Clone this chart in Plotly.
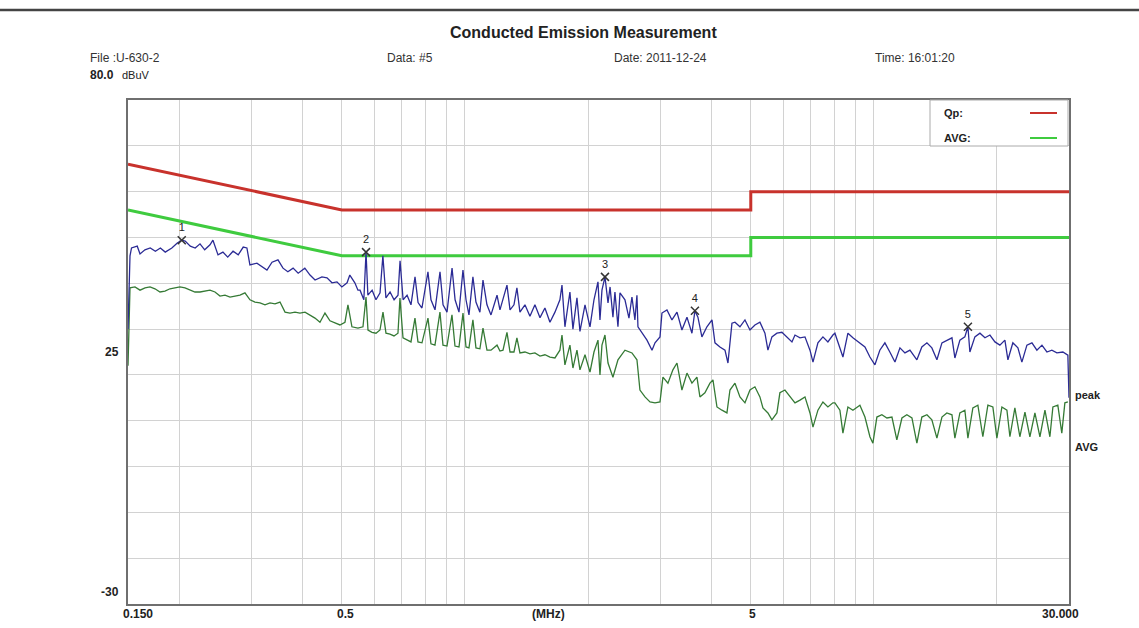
import math
import plotly.graph_objects as go

# ---- measurement data ----
peak_freq = [
    0.150, 0.1517, 0.153, 0.158, 0.1605, 0.165, 0.170, 0.175, 0.180, 0.185,
    0.192, 0.198, 0.203, 0.207, 0.213, 0.219, 0.225, 0.231, 0.238, 0.242,
    0.249, 0.256, 0.263, 0.271, 0.279, 0.287, 0.293, 0.298, 0.310, 0.319,
    0.328, 0.3375, 0.349, 0.359, 0.369, 0.380, 0.391, 0.406, 0.418, 0.430,
    0.447, 0.460, 0.473, 0.4865, 0.500, 0.515, 0.523, 0.538, 0.5475,
    0.554, 0.566, 0.573, 0.579, 0.593, 0.606, 0.620, 0.630, 0.641, 0.656,
    0.671, 0.686, 0.694, 0.706, 0.722, 0.738, 0.755, 0.768, 0.785, 0.812,
    0.826, 0.845, 0.869, 0.884, 0.904, 0.930, 0.946, 0.967, 0.989, 1.006,
    1.023, 1.046, 1.064, 1.088, 1.107, 1.132, 1.158, 1.198, 1.218, 1.239,
    1.267, 1.289, 1.318, 1.340, 1.363, 1.402, 1.442, 1.483, 1.526, 1.569,
    1.614, 1.660, 1.707, 1.727, 1.756, 1.806, 1.837, 1.879, 1.911, 1.966,
    2.022, 2.068, 2.115,
    2.139, 2.163, 2.200, 2.238, 2.264, 2.301, 2.327, 2.367, 2.394, 2.462,
    2.518, 2.561, 2.604, 2.634, 2.649, 2.709, 2.787, 2.867, 2.916, 2.999,
    3.032, 3.119, 3.208, 3.300, 3.393, 3.491, 3.590, 3.651, 3.713, 3.797,
    3.906, 4.019, 4.087, 4.203, 4.324, 4.397, 4.497, 4.574, 4.704, 4.839,
    4.977, 5.118, 5.264, 5.415, 5.507, 5.632, 5.793, 5.958, 6.129, 6.305,
    6.413, 6.596, 6.784, 6.978, 7.097, 7.297, 7.506, 7.719, 7.940,
    8.030, 8.400, 8.640, 8.886, 9.243, 9.509, 9.779, 10.06, 10.34, 10.64,
    10.94, 11.26, 11.58, 11.91, 12.25, 12.74, 13.10, 13.48, 13.86, 14.26,
    14.67, 15.08, 15.52, 15.78, 16.23, 16.69, 16.98, 17.17, 17.66, 18.17,
    18.69, 19.22, 19.77, 20.33, 20.91, 21.27, 21.87, 22.50, 23.01, 23.67,
    24.35, 25.04, 25.76, 26.49, 27.24, 28.02, 28.98, 29.81, 30.00,
]
peak_dbuv = [
    30.0, 46.0, 47.7, 48.1, 46.4, 47.3, 47.7, 47.0, 47.7, 46.8,
    47.7, 48.8, 49.4, 49.2, 48.1, 47.7, 48.6, 47.3, 48.4, 49.4,
    46.2, 46.8, 45.7, 47.0, 46.2, 47.9, 47.7, 44.0, 44.4, 43.6,
    42.9, 44.6, 45.1, 43.3, 42.5, 43.3, 42.2, 43.3, 41.8, 40.7,
    41.4, 41.2, 40.1, 40.3, 39.2, 40.1, 41.8, 40.1, 38.5,
    38.5, 36.4, 46.8, 37.4, 38.5, 36.4, 37.9, 46.0, 36.8, 38.1,
    36.4, 37.4, 44.9, 36.4, 37.4, 35.3, 41.4, 35.8, 34.6, 42.5,
    36.4, 34.2, 42.5, 35.3, 33.7, 43.3, 36.4, 33.7, 42.9, 36.4,
    33.1, 41.4, 35.9, 33.7, 40.7, 35.3, 33.1, 37.4, 34.2, 36.4,
    39.6, 34.2, 35.3, 39.0, 33.7, 35.3, 32.8, 35.3, 32.5, 34.6,
    31.5, 33.7, 36.4, 39.6, 30.5, 38.1, 30.0, 36.8, 29.5, 35.3,
    30.5, 36.4, 40.3,
    32.0, 38.5, 41.4, 35.7, 39.2, 32.6, 38.1, 30.5, 37.9, 36.4,
    32.4, 37.0, 32.0, 37.4, 30.5, 29.1, 27.6, 25.4, 27.0, 28.3,
    33.5, 34.2, 32.0, 33.7, 29.8, 32.6, 29.1, 34.0, 32.6, 28.3,
    30.5, 32.0, 27.0, 26.1, 25.4, 22.6, 31.3, 31.5, 30.5, 32.0,
    29.8, 30.9, 31.5, 29.1, 25.4, 28.3, 29.1, 29.3, 28.3, 27.2,
    28.7, 28.1, 28.3, 25.4, 22.8, 27.0, 28.3, 27.2, 28.7,
    29.1, 23.9, 29.1, 28.1, 27.0, 26.1, 23.9, 22.2, 25.4, 27.0,
    25.0, 22.8, 25.9, 24.8, 25.4, 23.3, 26.1, 27.0, 25.9, 23.3,
    27.0, 27.6, 28.1, 23.7, 27.6, 28.3, 30.5, 25.0, 28.3, 29.1,
    28.1, 28.7, 27.2, 26.5, 27.6, 23.3, 27.0, 25.9, 22.8, 26.5,
    27.0, 25.4, 26.5, 25.0, 25.4, 24.8, 25.0, 24.3, 15.0,
]

avg_freq = [
    0.150, 0.1517, 0.156, 0.1605, 0.1651, 0.1698, 0.1746, 0.1796, 0.1847, 0.190,
    0.1954, 0.201, 0.2068, 0.2127, 0.2187, 0.225, 0.2314, 0.238, 0.2448, 0.2518,
    0.259, 0.2664, 0.274, 0.2818, 0.2898, 0.2981, 0.3066, 0.3154, 0.3244, 0.3337,
    0.3432, 0.353, 0.3631, 0.3734, 0.3841, 0.395, 0.4064, 0.4179, 0.4298, 0.4421,
    0.4547, 0.4677, 0.481, 0.4947, 0.5089, 0.5175, 0.5293, 0.5475, 0.5632,
    0.5729, 0.5793, 0.5926, 0.6061, 0.6198, 0.6304, 0.6411, 0.6557, 0.6707, 0.6859,
    0.6936, 0.7056, 0.7217, 0.738, 0.7548, 0.7676, 0.7851, 0.8121, 0.8259, 0.8447,
    0.8688, 0.8837, 0.9039, 0.9296, 0.9455, 0.9671, 0.9891, 1.006, 1.023, 1.046,
    1.064, 1.088, 1.107, 1.132, 1.158, 1.198, 1.218, 1.239, 1.267, 1.289,
    1.318, 1.340, 1.363, 1.402, 1.442, 1.483, 1.526, 1.569, 1.614, 1.660,
    1.707, 1.727, 1.756, 1.806, 1.837, 1.879, 1.911, 1.966, 2.022, 2.068,
    2.115, 2.139, 2.163, 2.200, 2.238, 2.301, 2.367, 2.462, 2.561, 2.634,
    2.679, 2.756, 2.835, 2.916, 2.999, 3.049, 3.136, 3.225, 3.300, 3.393,
    3.491, 3.590, 3.692, 3.755, 3.862, 3.973, 4.041, 4.133, 4.251, 4.372,
    4.447, 4.574, 4.704, 4.839, 4.977, 5.118, 5.264, 5.354, 5.507, 5.632,
    5.793, 5.891, 6.060, 6.233, 6.413, 6.596, 6.784, 6.978, 7.097, 7.297,
    7.506, 7.719, 7.940, 8.030, 8.259, 8.400, 8.640, 8.886, 9.243, 9.509,
    9.779, 9.945, 10.17, 10.46, 10.76, 11.07, 11.38, 11.71, 12.04, 12.39,
    12.74, 13.10, 13.48, 13.86, 14.26, 14.67, 15.08, 15.52, 15.78, 16.23,
    16.69, 16.98, 17.46, 17.96, 18.47, 19.00, 19.54, 19.99, 20.56, 21.15,
    21.51, 22.12, 22.75, 23.41, 24.07, 24.76, 25.47, 26.20, 26.94, 27.40,
    28.17, 28.81, 29.31, 29.81,
]
avg_dbuv = [
    22.0, 39.0, 39.2, 38.5, 39.0, 39.2, 38.8, 38.1, 38.3, 38.8,
    39.0, 39.2, 39.0, 38.5, 38.1, 38.1, 38.3, 38.5, 38.1, 37.2,
    37.4, 37.0, 37.2, 37.4, 37.9, 36.4, 35.9, 35.7, 35.3, 35.7,
    35.5, 35.9, 33.7, 33.5, 33.7, 33.5, 33.7, 33.1, 32.4, 31.5,
    33.5, 31.8, 31.3, 30.9, 31.5, 35.3, 30.5, 30.2, 30.5,
    37.0, 29.8, 29.3, 29.1, 29.8, 33.7, 29.1, 28.9, 28.5, 29.1,
    36.8, 28.1, 27.6, 27.2, 32.4, 27.2, 27.0, 32.4, 26.8, 26.5,
    33.7, 26.5, 26.3, 33.1, 26.3, 26.1, 33.5, 26.1, 25.9, 32.0,
    25.9, 25.7, 30.2, 25.4, 25.4, 26.5, 25.2, 25.4, 29.3, 25.0,
    25.0, 28.1, 24.8, 25.0, 24.6, 24.8, 24.1, 24.4, 23.9, 23.7,
    25.4, 28.7, 22.2, 26.5, 21.5, 25.4, 21.1, 24.4, 20.6, 25.0,
    27.6, 20.0, 26.5, 28.7, 22.6, 19.5, 23.3, 25.4, 24.8, 23.3,
    16.7, 15.2, 14.1, 13.9, 14.1, 19.5, 18.2, 21.1, 22.6, 16.7,
    20.4, 18.2, 19.5, 15.2, 16.1, 18.2, 18.9, 13.0, 12.3, 11.7,
    16.7, 18.2, 15.2, 13.9, 16.7, 17.4, 15.2, 12.8, 11.7, 10.2,
    11.7, 16.1, 16.7, 15.2, 13.9, 14.5, 15.2, 11.7, 8.6, 12.3,
    14.1, 13.0, 13.9, 13.9, 12.3, 7.3, 13.0, 12.3, 13.4, 10.8,
    6.5, 5.1, 10.8, 11.3, 10.6, 10.8, 5.8, 10.6, 11.3, 10.6,
    5.1, 10.8, 11.3, 10.2, 6.2, 10.8, 11.7, 11.3, 6.2, 11.7,
    12.3, 6.2, 12.8, 13.4, 6.5, 13.4, 13.0, 6.2, 13.0, 12.3,
    6.5, 12.8, 6.5, 11.9, 6.5, 11.7, 6.5, 12.3, 6.5, 13.0,
    13.4, 7.3, 13.9, 14.1,
]

# EN 55022 class B limit lines
limit_freq = [0.15, 0.5, 5.0, 5.0, 30.0]
qp_limit = [66.0, 56.0, 56.0, 60.0, 60.0]
avg_limit = [56.0, 46.0, 46.0, 50.0, 50.0]

# marked peaks
marker_freq = [0.203, 0.573, 2.200, 3.651, 16.98]
marker_dbuv = [49.4, 46.8, 41.4, 34.0, 30.5]
marker_text = ["1", "2", "3", "4", "5"]

grid_freq = [0.2, 0.3, 0.4, 0.5, 0.6, 0.7, 0.8, 0.9, 1, 2, 3, 4, 5, 6, 7, 8, 9, 10, 20]
grid_level = [-20, -10, 0, 10, 20, 30, 40, 50, 60, 70]

# ---- page geometry (pixels) ----
W, H = 1139, 628
L, R, T, B = 128, 1069, 100, 604


def px(x, y):
    """pixel position -> paper coordinates"""
    return (x - L) / (R - L), (B - y) / (B - T)


NARROW = "Liberation Sans Narrow, Liberation Sans, Arial, sans-serif"
SANS = "Liberation Sans, Arial, sans-serif"

fig = go.Figure()

fig.add_trace(go.Scatter(x=limit_freq, y=qp_limit, mode="lines",
                         line=dict(color="#c8322c", width=3), hoverinfo="skip"))
fig.add_trace(go.Scatter(x=limit_freq, y=avg_limit, mode="lines",
                         line=dict(color="#3fcb3f", width=3), hoverinfo="skip"))
fig.add_trace(go.Scatter(x=avg_freq, y=avg_dbuv, mode="lines",
                         line=dict(color="#357a35", width=1.3)))
fig.add_trace(go.Scatter(x=peak_freq, y=peak_dbuv, mode="lines",
                         line=dict(color="#2b2b95", width=1.3)))
fig.add_trace(go.Scatter(x=marker_freq, y=marker_dbuv, mode="markers+text",
                         text=marker_text, textposition="top center",
                         textfont=dict(family=SANS, size=11, color="#222"),
                         marker=dict(symbol="x-thin-open", size=8, color="#333",
                                     line=dict(color="#333", width=1.5))))

shapes = []
# heavy rule across the page top
x0, y0 = px(0, 10)
x1, _ = px(W, 10)
shapes.append(dict(type="line", xref="paper", yref="paper", x0=x0, x1=x1, y0=y0, y1=y0,
                   line=dict(color="#444", width=2.5)))
# legend box
bx0, by0 = px(930, 146)
bx1, by1 = px(1068, 100)
shapes.append(dict(type="rect", xref="paper", yref="paper", x0=bx0, x1=bx1, y0=by0, y1=by1,
                   line=dict(color="#aaaaaa", width=1), fillcolor="white"))
for yy, col in ((113, "#c8322c"), (138, "#3fcb3f")):
    lx0, ly = px(1030, yy)
    lx1, _ = px(1057, yy)
    shapes.append(dict(type="line", xref="paper", yref="paper", x0=lx0, x1=lx1, y0=ly, y1=ly,
                       line=dict(color=col, width=2)))

annotations = []


def note(text, x, y, size=12, anchor="left", family=NARROW, bold=False, color="#222"):
    ax, ay = px(x, y)
    if bold:
        text = "<b>" + text + "</b>"
    annotations.append(dict(text=text, x=ax, y=ay, xref="paper", yref="paper",
                            xanchor=anchor, yanchor="middle", showarrow=False,
                            font=dict(family=family, size=size, color=color)))


note("Conducted Emission Measurement", 583, 32, size=16, anchor="center", family=SANS, bold=True)
note("File :U-630-2", 88, 58, color="#333")
note("Data: #5", 385, 58, color="#333")
note("Date: 2011-12-24", 612, 58, color="#333")
note("Time: 16:01:20", 873, 58, color="#333")
note("80.0", 88, 75, bold=True)
note("dBuV", 120, 75, size=11)
note("Qp:", 942, 113, size=11, family=SANS, bold=True)
note("AVG:", 942, 138, size=11, family=SANS, bold=True)
note("peak", 1073, 395, size=11, family=SANS, bold=True)
note("AVG", 1073, 447, size=11, family=SANS, bold=True)

# axis labels
for txt, xx in (("0.150", 138), ("0.5", 345), ("(MHz)", 548), ("5", 752), ("30.000", 1060)):
    note(txt, xx, 614, anchor="center", bold=True)
note("25", 121, B - (25 + 30) / 110 * (B - T), anchor="right", bold=True)
note("-30", 121, 592, anchor="right", bold=True)

fig.update_layout(
    width=W, height=H,
    margin=dict(l=L, r=W - R, t=T, b=H - B),
    paper_bgcolor="white", plot_bgcolor="white",
    showlegend=False,
    shapes=shapes, annotations=annotations,
    xaxis=dict(type="log", range=[math.log10(0.15), math.log10(30)],
               tickvals=grid_freq, showticklabels=False, ticks="",
               showgrid=True, gridcolor="#d2d2d2", gridwidth=1,
               showline=True, linecolor="#6f6f6f", linewidth=2, mirror=True,
               zeroline=False),
    yaxis=dict(range=[-30, 80], tickvals=grid_level, showticklabels=False, ticks="",
               showgrid=True, gridcolor="#d2d2d2", gridwidth=1,
               showline=True, linecolor="#6f6f6f", linewidth=2, mirror=True,
               zeroline=False),
)

fig.write_html("out.html")
